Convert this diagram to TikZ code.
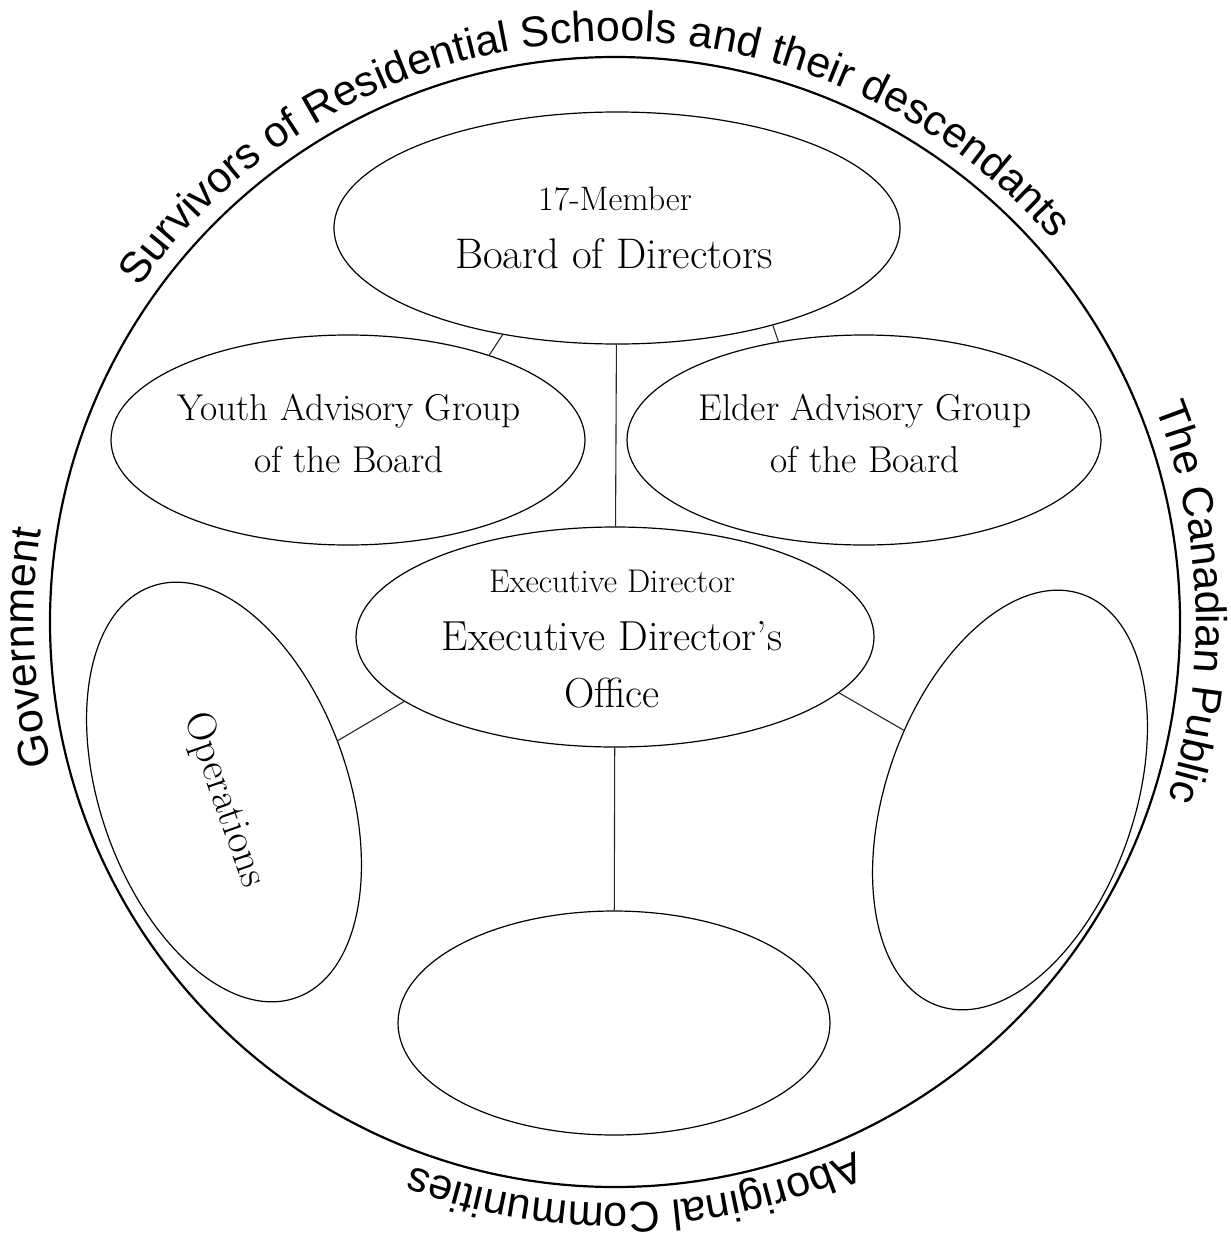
\documentclass[tikz,border=0pt]{standalone}
\usepackage{fontspec}
\setsansfont{Liberation Sans}
\usepackage{tikz}
\usetikzlibrary{shapes.geometric,decorations.text}
\newcommand{\ringfont}{\sffamily\fontsize{21.5}{26}\selectfont}

\begin{document}
\begin{tikzpicture}[x=0.5pt,y=0.5pt,
	unit/.style={ellipse, draw, line width=0.6pt, inner sep=0pt},
	link/.style={line width=0.55pt, black!85},
	ringtext/.style={decorate, decoration={text along path, text align=center, text={|\ringfont|#1}}}]
\useasboundingbox (0,0) rectangle (1231,-1237);
\node[circle, draw, line width=1.1pt, minimum size=565pt, inner sep=0pt] (ring) at (615,-622) {};

% the units
\node[unit, minimum width=283pt, minimum height=116pt] (board) at (617,-228) {};
\node[unit, minimum width=237pt, minimum height=105pt] (youth) at (348,-440) {};
\node[unit, minimum width=237pt, minimum height=105pt] (elder) at (864,-440) {};
\node[unit, minimum width=259pt, minimum height=110pt] (exec) at (615,-637) {};
\node[unit, minimum width=218pt, minimum height=124pt, rotate=-70.7] (ops) at (224,-792) {};
\node[unit, minimum width=218pt, minimum height=124pt, rotate=70.7] (eastunit) at (1010,-800) {};
\node[unit, minimum width=216pt, minimum height=112pt] (southunit) at (614,-1023) {};

% labels
\node[anchor=base, font=\fontsize{17}{20}\selectfont] (boardsize) at (615,-210) {17-Member};
\node[anchor=base, font=\fontsize{21.4}{26}\selectfont] (boardname) at (614,-268) {Board of Directors};
\node[anchor=base, font=\fontsize{18.7}{22}\selectfont] (youthname) at (349,-420) {Youth Advisory Group};
\node[anchor=base, font=\fontsize{18.7}{22}\selectfont] (youthtail) at (349,-472) {of the Board};
\node[anchor=base, font=\fontsize{18.7}{22}\selectfont] (eldername) at (865,-420) {Elder Advisory Group};
\node[anchor=base, font=\fontsize{18.7}{22}\selectfont] (eldertail) at (865,-472) {of the Board};
\node[anchor=base, font=\fontsize{16.4}{20}\selectfont] (execrole) at (612,-592) {Executive Director};
\node[anchor=base, font=\fontsize{21}{25}\selectfont] (execname) at (612,-650) {Executive Director’s};
\node[anchor=base, font=\fontsize{21}{25}\selectfont] (exectail) at (612,-707) {Office};
\node[rotate=-70.7, font=\fontsize{20.6}{24}\selectfont] (opsname) at (224,-800) {Operations};

% links
\draw[link] (board.223) -- (youth.31);
\draw[link] (board.328) -- (elder.131);
\draw[link] (board) -- (exec);
\draw[link] (exec.197) -- (ops.95);
\draw[link] (exec.346) -- (eastunit.76);
\draw[link] (exec) -- (southunit);

% text round the ring
\path[ringtext={Survivors of Residential Schools and their descendants}] (ring.center) ++(163:581) arc[start angle=163, end angle=23, radius=581];
\path[ringtext={The Canadian Public}] (ring.center) ++(62:581) arc[start angle=62, end angle=-58, radius=581];
\path[ringtext={Government}] (ring.center) ++(242.5:581) arc[start angle=242.5, end angle=122.5, radius=581];
\path[ringtext={Aboriginal Communities}] (ring.center) ++(332:581) arc[start angle=332, end angle=212, radius=581];
\end{tikzpicture}
\end{document}
